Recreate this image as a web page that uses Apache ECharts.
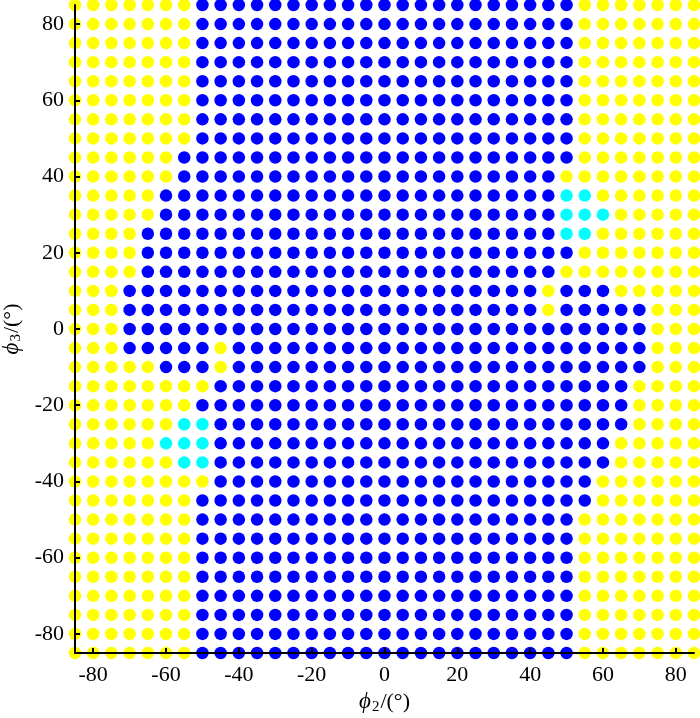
<!DOCTYPE html>
<html>
<head>
<meta charset="utf-8">
<script src="https://cdn.jsdelivr.net/npm/echarts@6/dist/echarts.min.js"></script>
<style>
  html, body { margin: 0; padding: 0; background: #fff; }
  #chart { width: 700px; height: 718px; }
</style>
</head>
<body>
<div id="chart"></div>
<script>
// grid values (deg)
var phi2Values = [];
for (var a = -85; a <= 85; a += 5) phi2Values.push(a);
var phi3Values = [];
for (var b = 85; b >= -85; b -= 5) phi3Values.push(b);
var tickValues = [-80, -60, -40, -20, 0, 20, 40, 60, 80];

// one row per phi3 (top to bottom), run lengths from phi2 = -85
// Y = yellow, B = blue, C = cyan
var rowRuns = [
    'Y7 B21 Y7', // 85
    'Y7 B21 Y7', // 80
    'Y7 B21 Y7', // 75
    'Y7 B21 Y7', // 70
    'Y7 B21 Y7', // 65
    'Y7 B21 Y7', // 60
    'Y7 B21 Y7', // 55
    'Y7 B21 Y7', // 50
    'Y6 B22 Y7', // 45
    'Y6 B21 Y8', // 40
    'Y5 B22 C2 Y6', // 35
    'Y5 B22 C3 Y5', // 30
    'Y4 B23 C2 Y6', // 25
    'Y4 B24 Y7', // 20
    'Y4 B23 Y8', // 15
    'Y3 B23 Y1 B3 Y5', // 10
    'Y3 B23 Y1 B5 Y3', // 5
    'Y3 B29 Y3', // 0
    'Y3 B5 Y1 B23 Y3', // -5
    'Y5 B3 Y1 B23 Y3', // -10
    'Y8 B23 Y4', // -15
    'Y7 B24 Y4', // -20
    'Y6 C2 B23 Y4', // -25
    'Y5 C3 B22 Y5', // -30
    'Y6 C2 B22 Y5', // -35
    'Y8 B21 Y6', // -40
    'Y7 B22 Y6', // -45
    'Y7 B21 Y7', // -50
    'Y7 B21 Y7', // -55
    'Y7 B21 Y7', // -60
    'Y7 B21 Y7', // -65
    'Y7 B21 Y7', // -70
    'Y7 B21 Y7', // -75
    'Y7 B21 Y7', // -80
    'Y7 B21 Y7'  // -85
];

var yellowPts = [], bluePts = [], cyanPts = [];
rowRuns.forEach(function (row, r) {
    var col = 0;
    row.split(' ').forEach(function (run) {
        var kind = run.charAt(0);
        var n = parseInt(run.substring(1));
        for (var k = 0; k < n; k++) {
            var p = [phi2Values[col], phi3Values[r]];
            if (kind == 'Y') yellowPts.push(p);
            else if (kind == 'B') bluePts.push(p);
            else cyanPts.push(p);
            col++;
        }
    });
});

var font = 'Liberation Serif';
var nameRich = {
    i: { fontFamily: font, fontStyle: 'italic', fontSize: 23, color: '#000' },
    s: { fontFamily: font, fontSize: 15, color: '#000', padding: [9, 1, 0, 1] },
    t: { fontFamily: font, fontSize: 22, color: '#000' }
};

function makeAxis(nameText, gap, rotate) {
    return {
        type: 'value',
        min: -85,
        max: 85,
        z: 5,
        name: nameText,
        nameLocation: 'middle',
        nameGap: gap,
        nameRotate: rotate,
        nameTextStyle: { rich: nameRich },
        axisLine: { show: true, onZero: false, lineStyle: { color: '#000', width: 2 } },
        axisTick: { show: true, inside: true, length: 5, customValues: tickValues, lineStyle: { color: '#000', width: 2 } },
        axisLabel: { customValues: tickValues, fontFamily: font, fontSize: 22, color: '#000', margin: 11 },
        splitLine: { show: false }
    };
}

var chart = echarts.init(document.getElementById('chart'));
chart.setOption({
    animation: false,
    grid: { left: 75, right: 6, top: 5, bottom: 65, containLabel: false, outerBoundsMode: 'none' },
    xAxis: makeAxis('{i|\u03D5}{s|2}{t|/(°)}', 35, 0),
    yAxis: makeAxis('{i|\u03D5}{s|3}{t|/(°)}', 44, 90),
    series: [
        { type: 'scatter', data: yellowPts, symbolSize: 12.5, itemStyle: { color: '#ffff00', opacity: 1 } },
        { type: 'scatter', data: bluePts, symbolSize: 12.5, itemStyle: { color: '#0000ff', opacity: 1 } },
        { type: 'scatter', data: cyanPts, symbolSize: 12.5, itemStyle: { color: '#00ffff', opacity: 1 } }
    ]
});
</script>
</body>
</html>
